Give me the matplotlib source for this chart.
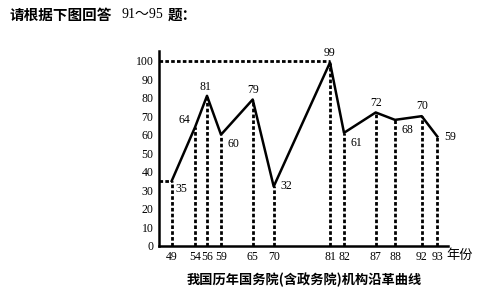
import matplotlib.pyplot as plt

plt.rcParams['font.family'] = ['Liberation Serif', 'Noto Sans CJK SC']

# years (tick labels), their positions along the drawn axis, and values
years = ['49', '54', '56', '59', '65', '70', '81', '82', '87', '88', '92', '93']
year_pos = [12.7, 36, 48, 62, 93.7, 114.7, 171, 185, 216.7, 236, 262.7, 278.3]
counts = [35, 64, 81, 60, 79, 32, 99, 61, 72, 68, 70, 59]
y_ticks = [0, 10, 20, 30, 40, 50, 60, 70, 80, 90, 100]

# label offsets in points (dx, dy)
label_off = [(7, -6), (-8, 5), (-1, 6), (9, -7), (0, 7), (9, 0),
             (0, 7), (9, -7), (0, 7), (9, -7), (0, 7), (9, 0)]

fig = plt.figure(figsize=(5.04, 2.99), dpi=100)
ax = fig.add_axes([159 / 504, 53.3 / 299, 289 / 504, 194.3 / 299])

dash = dict(color='black', linewidth=2.0, linestyle=(0, (1.3, 0.8)))

# vertical dashed drops
for x, v in zip(year_pos, counts):
    ax.plot([x, x], [0, v], **dash)
# horizontal dashed guides
ax.plot([0, year_pos[0]], [counts[0], counts[0]], **dash)
ax.plot([0, year_pos[6]], [100, 100], **dash)

ax.plot(year_pos, counts, color='black', linewidth=1.8)

for x, v, (dx, dy) in zip(year_pos, counts, label_off):
    ax.annotate(str(v), (x, v), textcoords='offset points', xytext=(dx, dy),
                ha='center', va='center', fontsize=8.5)

ax.set_xlim(0, 289)
ax.set_ylim(0, 105)
ax.set_xticks(year_pos)
ax.set_xticklabels(years, fontsize=8.5)
ax.set_yticks(y_ticks)
ax.set_yticklabels([str(t) for t in y_ticks], fontsize=8.5)
ax.tick_params(length=0, pad=4)
for s in ['top', 'right']:
    ax.spines[s].set_visible(False)
for s in ['left', 'bottom']:
    ax.spines[s].set_linewidth(1.8)

fig.text(446 / 504, 1 - 256 / 299, '年份', fontsize=9.5, ha='left', va='center',
         family=['Noto Sans CJK SC'])
fig.text(10 / 504, 1 - 15 / 299, '请根据下图回答', fontsize=10.5, fontweight='bold',
         ha='left', va='center', family=['Noto Sans CJK SC'])
fig.text(122 / 504, 1 - 15 / 299, '91～95', fontsize=10, ha='left', va='center',
         family=['Liberation Serif', 'Noto Sans CJK SC'])
fig.text(168 / 504, 1 - 15 / 299, '题：', fontsize=10.5, fontweight='bold',
         ha='left', va='center', family=['Noto Sans CJK SC'])
fig.text(304 / 504, 1 - 280 / 299, '我国历年国务院(含政务院)机构沿革曲线', fontsize=9.5,
         fontweight='bold', ha='center', va='center', family=['Noto Sans CJK SC'])

fig.savefig('out.png', dpi=100)
